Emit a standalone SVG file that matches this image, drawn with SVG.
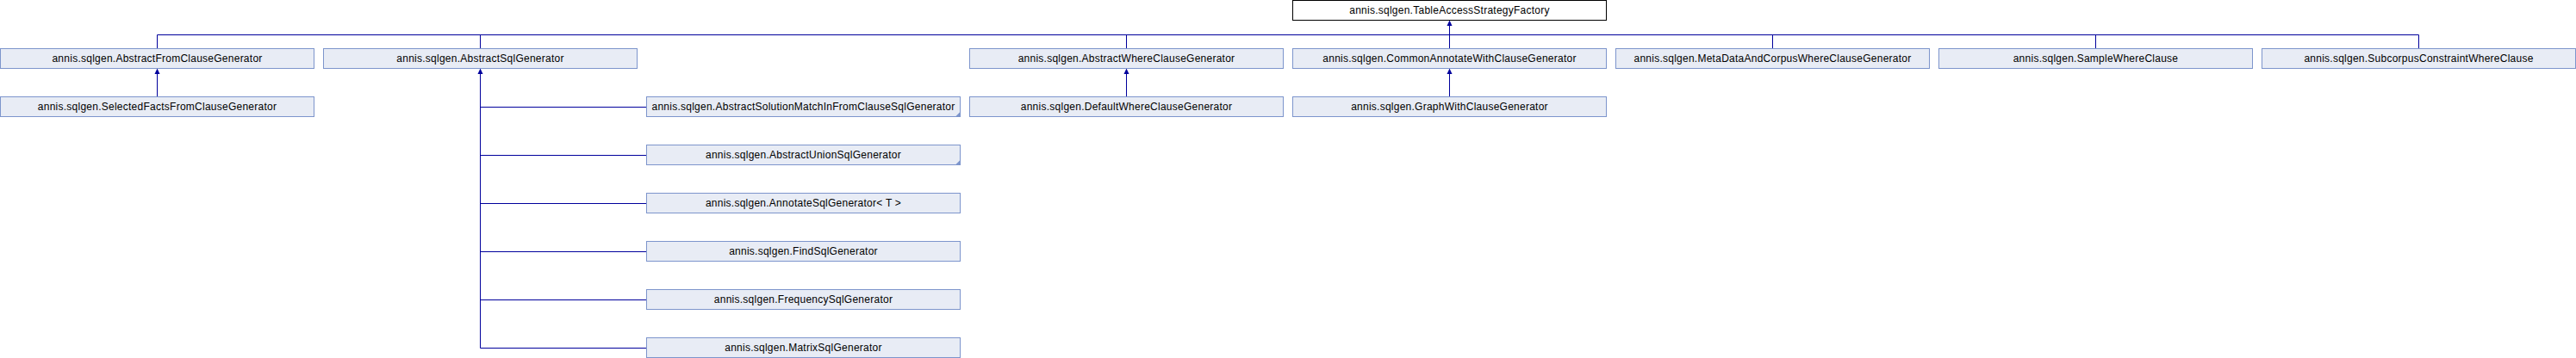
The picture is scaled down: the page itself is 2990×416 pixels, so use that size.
<svg xmlns="http://www.w3.org/2000/svg" width="2990" height="416" viewBox="0 0 2990 416">
<style>
.bg{fill:#ffffff}
.box rect{fill:#e8ecf5;stroke:#7d95cc;stroke-width:1}
.root rect{fill:#ffffff;stroke:#000000;stroke-width:1}
.box text,.root text{font-family:"Liberation Sans",Arial,sans-serif;font-size:12px;letter-spacing:0.25px;fill:#000000;text-anchor:middle}
.trunc{fill:#7d95cc}
#edges line,#edges polyline{stroke:#00009c;stroke-width:1;fill:none}
#edges polygon{fill:#00009c;stroke:none}
</style>
<defs>
<marker id="arr" viewBox="0 0 8 8" refX="0" refY="4" markerWidth="8" markerHeight="8" markerUnits="userSpaceOnUse" orient="auto">
<path d="M0,4 L6,1 L6,7 Z" fill="#00009c"/>
</marker>
</defs>
<rect class="bg" x="0" y="0" width="2990" height="416"/>

<g id="edges">
<line x1="182.5" y1="40.5" x2="2807.5" y2="40.5"/>
<line x1="182.5" y1="40.5" x2="182.5" y2="56.5"/>
<line x1="557.5" y1="40.5" x2="557.5" y2="56.5"/>
<line x1="1307.5" y1="40.5" x2="1307.5" y2="56.5"/>
<line x1="2057.5" y1="40.5" x2="2057.5" y2="56.5"/>
<line x1="2432.5" y1="40.5" x2="2432.5" y2="56.5"/>
<line x1="2807.5" y1="40.5" x2="2807.5" y2="56.5"/>
<line x1="1682.5" y1="56.5" x2="1682.5" y2="29"/>
<polygon points="1682.5,23.5 1685.5,30 1679.5,30"/>

<line x1="182.5" y1="112.5" x2="182.5" y2="85"/>
<polygon points="182.5,79.5 185.5,86 179.5,86"/>
<line x1="1307.5" y1="112.5" x2="1307.5" y2="85"/>
<polygon points="1307.5,79.5 1310.5,86 1304.5,86"/>
<line x1="1682.5" y1="112.5" x2="1682.5" y2="85"/>
<polygon points="1682.5,79.5 1685.5,86 1679.5,86"/>

<line x1="557.5" y1="404.5" x2="557.5" y2="85"/>
<polygon points="557.5,79.5 560.5,86 554.5,86"/>
<line x1="557.5" y1="124.5" x2="750.5" y2="124.5"/>
<line x1="557.5" y1="180.5" x2="750.5" y2="180.5"/>
<line x1="557.5" y1="236.5" x2="750.5" y2="236.5"/>
<line x1="557.5" y1="292.5" x2="750.5" y2="292.5"/>
<line x1="557.5" y1="348.5" x2="750.5" y2="348.5"/>
<line x1="557.5" y1="404.5" x2="750.5" y2="404.5"/>
</g>

<g id="n_TableAccessStrategyFactory" class="root">
<rect x="1500.5" y="0.5" width="364" height="23"/>
<text x="1682.5" y="16.3">annis.sqlgen.TableAccessStrategyFactory</text>
</g>

<g id="n_AbstractFromClauseGenerator" class="box">
<rect x="0.5" y="56.5" width="364" height="23"/>
<text x="182.5" y="72.3">annis.sqlgen.AbstractFromClauseGenerator</text>
</g>
<g id="n_AbstractSqlGenerator" class="box">
<rect x="375.5" y="56.5" width="364" height="23"/>
<text x="557.5" y="72.3">annis.sqlgen.AbstractSqlGenerator</text>
</g>
<g id="n_AbstractWhereClauseGenerator" class="box">
<rect x="1125.5" y="56.5" width="364" height="23"/>
<text x="1307.5" y="72.3">annis.sqlgen.AbstractWhereClauseGenerator</text>
</g>
<g id="n_CommonAnnotateWithClauseGenerator" class="box">
<rect x="1500.5" y="56.5" width="364" height="23"/>
<text x="1682.5" y="72.3">annis.sqlgen.CommonAnnotateWithClauseGenerator</text>
</g>
<g id="n_MetaDataAndCorpusWhereClauseGenerator" class="box">
<rect x="1875.5" y="56.5" width="364" height="23"/>
<text x="2057.5" y="72.3">annis.sqlgen.MetaDataAndCorpusWhereClauseGenerator</text>
</g>
<g id="n_SampleWhereClause" class="box">
<rect x="2250.5" y="56.5" width="364" height="23"/>
<text x="2432.5" y="72.3">annis.sqlgen.SampleWhereClause</text>
</g>
<g id="n_SubcorpusConstraintWhereClause" class="box">
<rect x="2625.5" y="56.5" width="364" height="23"/>
<text x="2807.5" y="72.3">annis.sqlgen.SubcorpusConstraintWhereClause</text>
</g>

<g id="n_SelectedFactsFromClauseGenerator" class="box">
<rect x="0.5" y="112.5" width="364" height="23"/>
<text x="182.5" y="128.3">annis.sqlgen.SelectedFactsFromClauseGenerator</text>
</g>
<g id="n_AbstractSolutionMatchInFromClauseSqlGenerator" class="box">
<rect x="750.5" y="112.5" width="364" height="23"/>
<polygon class="trunc" points="1114.5,130 1114.5,135.5 1109,135.5"/>
<text x="932.5" y="128.3">annis.sqlgen.AbstractSolutionMatchInFromClauseSqlGenerator</text>
</g>
<g id="n_DefaultWhereClauseGenerator" class="box">
<rect x="1125.5" y="112.5" width="364" height="23"/>
<text x="1307.5" y="128.3">annis.sqlgen.DefaultWhereClauseGenerator</text>
</g>
<g id="n_GraphWithClauseGenerator" class="box">
<rect x="1500.5" y="112.5" width="364" height="23"/>
<text x="1682.5" y="128.3">annis.sqlgen.GraphWithClauseGenerator</text>
</g>

<g id="n_AbstractUnionSqlGenerator" class="box">
<rect x="750.5" y="168.5" width="364" height="23"/>
<polygon class="trunc" points="1114.5,186 1114.5,191.5 1109,191.5"/>
<text x="932.5" y="184.3">annis.sqlgen.AbstractUnionSqlGenerator</text>
</g>
<g id="n_AnnotateSqlGenerator" class="box">
<rect x="750.5" y="224.5" width="364" height="23"/>
<text x="932.5" y="240.3">annis.sqlgen.AnnotateSqlGenerator&lt; T &gt;</text>
</g>
<g id="n_FindSqlGenerator" class="box">
<rect x="750.5" y="280.5" width="364" height="23"/>
<text x="932.5" y="296.3">annis.sqlgen.FindSqlGenerator</text>
</g>
<g id="n_FrequencySqlGenerator" class="box">
<rect x="750.5" y="336.5" width="364" height="23"/>
<text x="932.5" y="352.3">annis.sqlgen.FrequencySqlGenerator</text>
</g>
<g id="n_MatrixSqlGenerator" class="box">
<rect x="750.5" y="392.5" width="364" height="23"/>
<text x="932.5" y="408.3">annis.sqlgen.MatrixSqlGenerator</text>
</g>
</svg>
